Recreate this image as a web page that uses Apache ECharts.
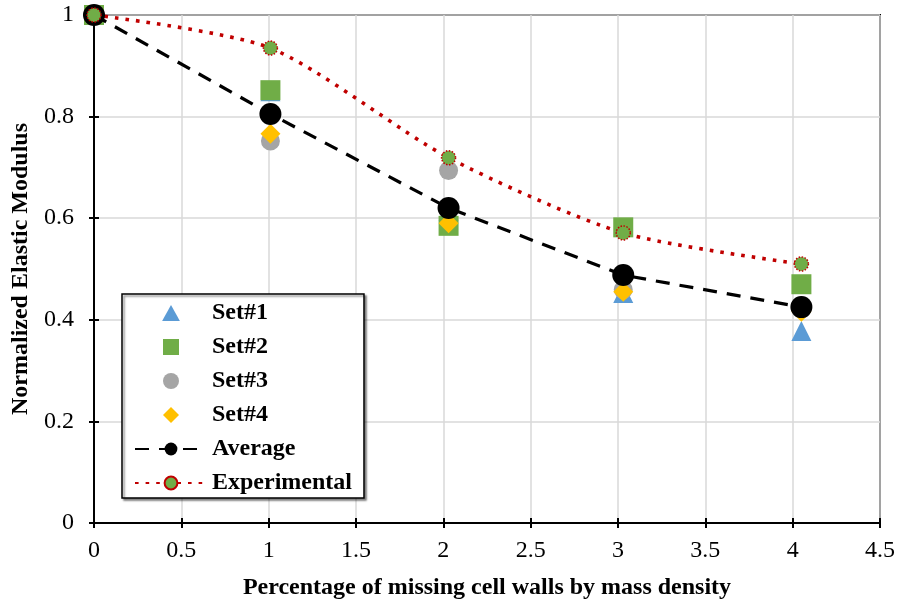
<!DOCTYPE html>
<html>
<head>
<meta charset="utf-8">
<script src="https://cdn.jsdelivr.net/npm/echarts@6/dist/echarts.min.js"></script>
<style>html,body{margin:0;padding:0;background:#fff}#c{width:898px;height:605px}</style>
</head>
<body>
<div id="c"></div>
<script>
// ---- data ----
const xValues = [0, 1.01, 2.03, 3.03, 4.05];
const set1 = [1.0, 0.850, 0.615, 0.453, 0.378];
const set2 = [1.0, 0.852, 0.585, 0.582, 0.470];
const set3 = [1.0, 0.752, 0.694, 0.459, 0.428];
const set4 = [1.0, 0.766, 0.590, 0.455, 0.416];
const average = [1.0, 0.805, 0.620, 0.488, 0.425];
const experimental = [1.0, 0.935, 0.719, 0.571, 0.510];
const xTicks = ['0', '0.5', '1', '1.5', '2', '2.5', '3', '3.5', '4', '4.5'];
const yTicks = ['0', '0.2', '0.4', '0.6', '0.8', '1'];
const legendOrder = ['Set#1', 'Set#2', 'Set#3', 'Set#4', 'Average', 'Experimental'];

function pairs(ys) { return xValues.map((x, i) => [x, ys[i]]); }

const FONT = 'Liberation Serif';
const FS = 24;
const chart = echarts.init(document.getElementById('c'), null, {renderer: 'canvas'});
const xLabelFmt = v => { const s = String(+v.toFixed(2)); return xTicks.includes(s) ? s : ''; };
const yLabelFmt = v => { const s = String(+v.toFixed(2)); return yTicks.includes(s) ? s : ''; };

const legendIcons = {
  'Set#1': 'path://M0.5,0 L1,0.9 L0,0.9 Z',
  'Set#2': 'path://M0,0 L1,0 L1,1 L0,1 Z',
  'Set#3': 'path://M0,0.5 A0.5,0.5 0 1 1 1,0.5 A0.5,0.5 0 1 1 0,0.5 Z',
  'Set#4': 'path://M0.5,0 L1,0.5 L0.5,1 L0,0.5 Z'
};

const option = {
  backgroundColor: '#fff',
  animation: false,
  textStyle: {fontFamily: FONT},
  grid: {left: 94, right: 17, top: 15, bottom: 82, show: true, borderColor: '#000', borderWidth: 2, backgroundColor: 'transparent'},
  xAxis: [{
    type: 'value', min: 0, max: 4.5, interval: 0.5, position: 'bottom',
    name: 'Percentage of missing cell walls by mass density', nameLocation: 'middle', nameGap: 53,
    nameTextStyle: {fontFamily: FONT, fontWeight: 'bold', fontSize: FS, color: '#000'},
    axisLine: {show: true, onZero: false, lineStyle: {color: '#000', width: 2}},
    axisTick: {show: true, inside: false, length: 5, lineStyle: {color: '#000', width: 2}},
    axisLabel: {formatter: xLabelFmt, fontFamily: FONT, fontSize: FS, color: '#000', margin: 16},
    splitLine: {show: true, lineStyle: {color: '#d9d9d9', width: 1.5}}
  }, {
    type: 'value', min: 0, max: 4.5, interval: 0.5, position: 'bottom',
    axisLine: {show: false}, axisLabel: {show: false}, splitLine: {show: false},
    axisTick: {show: true, inside: true, length: 5, lineStyle: {color: '#000', width: 2}}
  }],
  yAxis: [{
    type: 'value', min: 0, max: 1, interval: 0.2, position: 'left',
    name: 'Normalized Elastic Modulus', nameLocation: 'middle', nameGap: 58,
    nameTextStyle: {fontFamily: FONT, fontWeight: 'bold', fontSize: FS, color: '#000'},
    axisLine: {show: true, onZero: false, lineStyle: {color: '#000', width: 2}},
    axisTick: {show: true, inside: false, length: 5, lineStyle: {color: '#000', width: 2}},
    axisLabel: {formatter: yLabelFmt, fontFamily: FONT, fontSize: FS, color: '#000', margin: 20},
    splitLine: {show: true, lineStyle: {color: '#d9d9d9', width: 1.5}}
  }, {
    type: 'value', min: 0, max: 1, interval: 0.2, position: 'left',
    axisLine: {show: false}, axisLabel: {show: false}, splitLine: {show: false},
    axisTick: {show: true, inside: true, length: 5, lineStyle: {color: '#000', width: 2}}
  }],
  legend: {
    data: legendOrder.map(n => legendIcons[n] ? {name: n, icon: legendIcons[n]} : {name: n}),
    orient: 'vertical', left: 122, top: 294,
    padding: [7, 12, 3, 12],
    itemWidth: 72, itemHeight: 16, itemGap: 10,
    backgroundColor: '#fff', borderColor: '#000', borderWidth: 1.5,
    shadowColor: 'rgba(0,0,0,0.45)', shadowBlur: 2, shadowOffsetX: 2, shadowOffsetY: 2,
    textStyle: {fontFamily: FONT, fontWeight: 'bold', fontSize: FS, color: '#000'}
  },
  series: [
    {
      name: 'Average', type: 'line', data: pairs(average),
      symbol: 'circle', symbolSize: 22,
      itemStyle: {color: '#000'},
      lineStyle: {color: '#000', width: 3.2, type: [14, 10]}
    },
    {
      name: 'Experimental', type: 'line', data: pairs(experimental), smooth: 0.25,
      symbol: 'circle', symbolSize: 14,
      itemStyle: {color: '#70ad47', borderColor: '#c00000', borderWidth: 1.5, borderType: 'dotted'},
      lineStyle: {color: '#c00000', width: 3.6, type: [3.6, 7]}
    },
    {name: 'Set#1', type: 'scatter', data: pairs(set1), symbol: 'triangle', symbolSize: 20, itemStyle: {color: '#5b9bd5', opacity: 1}},
    {name: 'Set#2', type: 'scatter', data: pairs(set2), symbol: 'rect', symbolSize: 20, itemStyle: {color: '#70ad47', opacity: 1}},
    {name: 'Set#3', type: 'scatter', data: pairs(set3), symbol: 'circle', symbolSize: 19, itemStyle: {color: '#a5a5a5', opacity: 1}},
    {name: 'Set#4', type: 'scatter', data: pairs(set4), symbol: 'diamond', symbolSize: 20, itemStyle: {color: '#ffc000', opacity: 1}}
  ]
};
chart.setOption(option);
</script>
</body>
</html>
